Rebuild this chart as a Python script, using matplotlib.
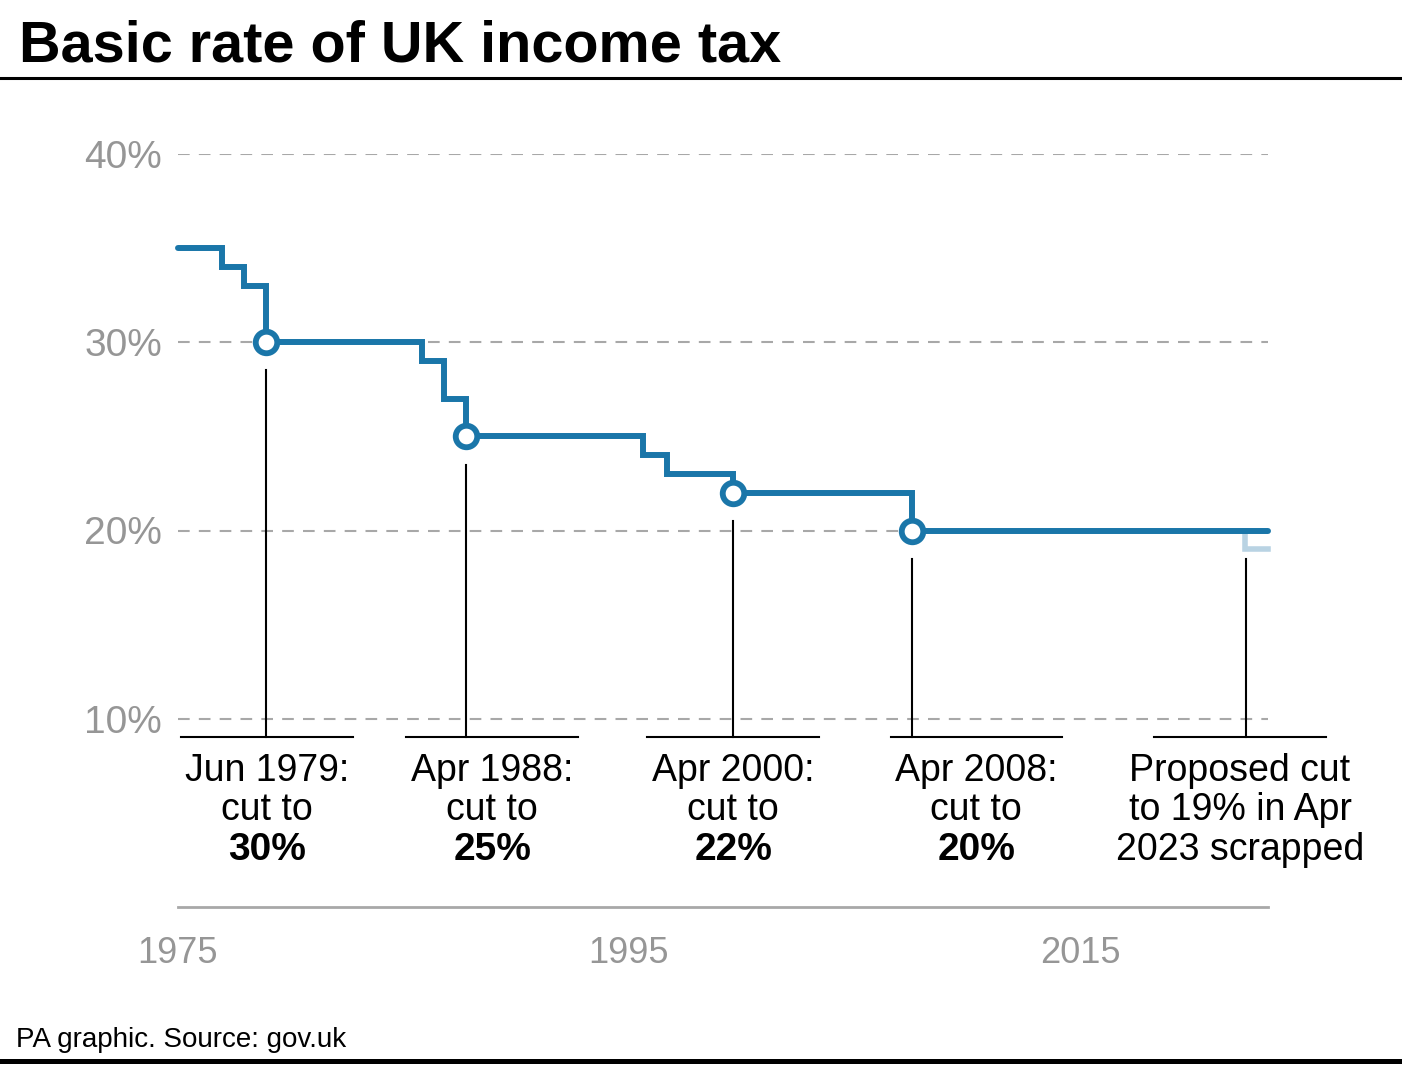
import matplotlib
matplotlib.use("Agg")
import matplotlib.pyplot as plt

# Basic rate of income tax, step changes (years)
change_years = [1975.0, 1976.94, 1977.93, 1978.90, 1985.81, 1986.80,
                1987.77, 1995.63, 1996.67, 1999.63, 2007.54, 2023.34]
rates = [35, 34, 33, 30, 29, 27, 25, 24, 23, 22, 20, 20]

# scrapped proposal (light tail)
proposed_years = [2022.30, 2023.34]
proposed_rates = [20, 19]

# highlighted cuts
key_years = [1978.90, 1987.77, 1999.63, 2007.54]
key_rates = [30, 25, 22, 20]

# annotations: event year, rate at event, label centre, text lines
event_years = [1978.90, 1987.77, 1999.63, 2007.54, 2022.36]
event_rates = [30, 25, 22, 20, 20]
label_centres = [1978.95, 1988.93, 1999.62, 2010.40, 2022.10]
label_lines = [
    ("Jun 1979:", "cut to", "30%"),
    ("Apr 1988:", "cut to", "25%"),
    ("Apr 2000:", "cut to", "22%"),
    ("Apr 2008:", "cut to", "20%"),
    ("Proposed cut", "to 19% in Apr", "2023 scrapped"),
]
label_bold_last = [True, True, True, True, False]

y_ticks = [10, 20, 30, 40]
y_tick_labels = ["10%", "20%", "30%", "40%"]
x_ticks = [1975, 1995, 2015]

BLUE = "#1a76a9"
LIGHT = "#b9d3e3"
GREY = "#969696"
GRID = "#a8a8a8"

plt.rcParams['font.family'] = ['Liberation Sans', 'DejaVu Sans']

fig = plt.figure(figsize=(14.02, 10.70), dpi=100)
ax = fig.add_axes([178 / 1402, 1 - 907 / 1070, 1090 / 1402, 753 / 1070])
ax.set_xlim(1975, 2023.34)
ax.set_ylim(0, 40)

# gridlines and axis
for y in y_ticks:
    ax.axhline(y, color=GRID, lw=1.5, ls=(0, (5.6, 4.4)), zorder=1)
for s in ["top", "right", "left"]:
    ax.spines[s].set_visible(False)
ax.spines["bottom"].set_color(GRID)
ax.spines["bottom"].set_linewidth(2)

ax.set_yticks(y_ticks)
ax.set_yticklabels(y_tick_labels)
ax.set_xticks(x_ticks)
ax.set_xticklabels([str(x) for x in x_ticks])
ax.tick_params(axis="y", length=0, pad=11.5, labelsize=28, labelcolor=GREY)
ax.tick_params(axis="x", length=0, pad=21, labelsize=26, labelcolor=GREY)

# scrapped proposal tail, underneath the main line
ax.step(proposed_years, proposed_rates, where="pre", color=LIGHT, lw=4.0,
        solid_joinstyle="miter", zorder=2, clip_on=False)

# main step line
ax.step(change_years, rates, where="post", color=BLUE, lw=4.3,
        solid_joinstyle="miter", solid_capstyle="round", zorder=3, clip_on=False)

# circles on key cuts
ax.plot(key_years, key_rates, ls="none", marker="o", ms=15.5, mew=4.2,
        mfc="white", mec=BLUE, zorder=4, clip_on=False)

# annotation leader lines and labels
seg_y = 9.03
half_w = 3.8
baselines = [6.69, 4.62, 2.50]
for ex, er, cx, lines, bold in zip(event_years, event_rates, label_centres,
                                   label_lines, label_bold_last):
    ax.plot([ex, ex], [er - 1.5, seg_y], color="black", lw=1.5, zorder=2,
            clip_on=False)
    ax.plot([cx - half_w, cx + half_w], [seg_y, seg_y], color="black", lw=1.5,
            zorder=2, clip_on=False)
    for i, (txt, yb) in enumerate(zip(lines, baselines)):
        is_bold = bold and i == 2
        ax.text(cx, yb, txt, ha="center", va="baseline",
                fontsize=28 if is_bold else 27,
                fontweight="bold" if is_bold else "normal",
                color="black", clip_on=False)

# title, rules and footer
fig.text(19 / 1402, 1 - 61 / 1070, "Basic rate of UK income tax",
         fontsize=41.5, fontweight="bold", ha="left", va="baseline")
fig.add_artist(plt.Line2D([0, 1], [1 - 78 / 1070] * 2, color="black", lw=2.2))
fig.text(16 / 1402, 1 - 1047 / 1070, "PA graphic. Source: gov.uk",
         fontsize=20, ha="left", va="baseline")
fig.add_artist(plt.Line2D([0, 1], [1 - 1061 / 1070] * 2, color="black", lw=3.6))

fig.savefig("out.png", dpi=100)
